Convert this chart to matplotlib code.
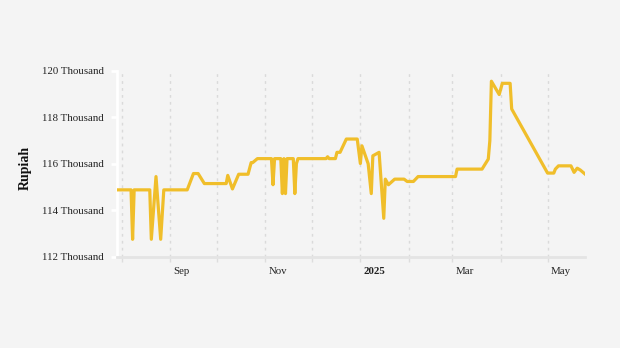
import matplotlib
matplotlib.use('Agg')
import matplotlib.pyplot as plt
import matplotlib.transforms as mtransforms
from matplotlib.ticker import FuncFormatter
import pandas as pd

# daily price readings (rupiah)
dates = ['2024-07-29', '2024-08-07', '2024-08-08', '2024-08-09', '2024-08-19',
         '2024-08-20', '2024-08-23', '2024-08-26', '2024-08-28', '2024-09-12',
         '2024-09-16', '2024-09-19', '2024-09-23', '2024-10-07', '2024-10-08',
         '2024-10-11', '2024-10-15', '2024-10-21', '2024-10-23', '2024-10-24',
         '2024-10-27', '2024-11-05', '2024-11-06', '2024-11-07', '2024-11-11',
         '2024-11-12', '2024-11-13', '2024-11-14', '2024-11-15', '2024-11-19',
         '2024-11-20', '2024-11-21', '2024-11-22', '2024-12-10', '2024-12-11',
         '2024-12-12', '2024-12-16', '2024-12-17', '2024-12-19', '2024-12-23',
         '2024-12-30', '2025-01-01', '2025-01-02', '2025-01-06', '2025-01-08',
         '2025-01-09', '2025-01-13', '2025-01-16', '2025-01-17', '2025-01-19',
         '2025-01-23', '2025-01-29', '2025-01-31', '2025-02-04', '2025-02-07',
         '2025-03-03', '2025-03-04', '2025-03-20', '2025-03-24', '2025-03-25',
         '2025-03-26', '2025-03-31', '2025-04-02', '2025-04-07', '2025-04-08',
         '2025-05-01', '2025-05-05', '2025-05-06', '2025-05-08', '2025-05-16',
         '2025-05-18', '2025-05-20', '2025-05-22', '2025-05-25']
prices = [114880, 114880, 112760, 114880, 114880,
          112760, 115450, 112760, 114880, 114880,
          115580, 115580, 115150, 115150, 115500,
          114920, 115550, 115550, 116050, 116050,
          116220, 116220, 115100, 116220, 116220,
          114720, 116220, 114720, 116220, 116220,
          114720, 116000, 116220, 116220, 116300,
          116220, 116220, 116490, 116490, 117060,
          117060, 116010, 116770, 116000, 114720,
          116340, 116490, 113660, 115340, 115100,
          115340, 115340, 115240, 115240, 115450,
          115450, 115770, 115770, 116200, 116990,
          119540, 118970, 119450, 119450, 118350,
          115600, 115600, 115770, 115910, 115910,
          115630, 115810, 115730, 115560]

tick_months = ['2024-08-01', '2024-09-01', '2024-10-01', '2024-11-01', '2024-12-01',
               '2025-01-01', '2025-02-01', '2025-03-01', '2025-04-01', '2025-05-01']
tick_names = ['', 'Sep', '', 'Nov', '', '2025', '', 'Mar', '', 'May']
y_ticks = [112000, 114000, 116000, 118000, 120000]

plt.rcParams['font.family'] = ['Liberation Serif', 'DejaVu Serif']
bg = '#f4f4f4'

fig = plt.figure(figsize=(6.2, 3.48), dpi=100, facecolor=bg)
ax = fig.add_axes([117 / 620, 1 - 257 / 348, (585 - 117) / 620, (257 - 70.5) / 348])
ax.set_facecolor(bg)

x = pd.to_datetime(dates)
ax.plot(x, prices, color='#f0be2a', lw=2.3, solid_joinstyle='round', zorder=3)

ax.set_xlim(x[0], x[-1])
ax.set_ylim(112000, 120000)
ax.set_yticks(y_ticks)
ax.yaxis.set_major_formatter(FuncFormatter(lambda v, p: '%d Thousand' % (v / 1000)))

ax.set_xticks(pd.to_datetime(tick_months))
ax.set_xticklabels(tick_names)

ax.grid(axis='x', color='#dadada', linestyle=(0, (2, 3)), lw=1, zorder=0)

for s in ['top', 'right']:
    ax.spines[s].set_visible(False)
ax.spines['left'].set_color('white')
ax.spines['left'].set_linewidth(2)
ax.spines['bottom'].set_color('#e4e4e4')
ax.spines['bottom'].set_linewidth(2)

ax.tick_params(axis='y', colors='white', width=2, length=4, pad=5.5, labelsize=7.8,
               labelcolor='#222222')
ax.tick_params(axis='x', colors='#dddddd', width=1, length=3.6, pad=3.5, labelsize=7.8,
               labelcolor='#222222')

# month labels sit just right of their tick
shift = mtransforms.ScaledTranslation(3.3 / 100, 0, fig.dpi_scale_trans)
for lab in ax.get_xticklabels():
    lab.set_horizontalalignment('left')
    lab.set_transform(lab.get_transform() + shift)
    if lab.get_text() == '2025':
        lab.set_fontweight('bold')

fig.text(25 / 620, 1 - 168 / 348, 'Rupiah', rotation=90, ha='center', va='center',
         fontsize=10, fontweight='bold', color='#111111')

fig.savefig('out.png', dpi=100, facecolor=bg)
